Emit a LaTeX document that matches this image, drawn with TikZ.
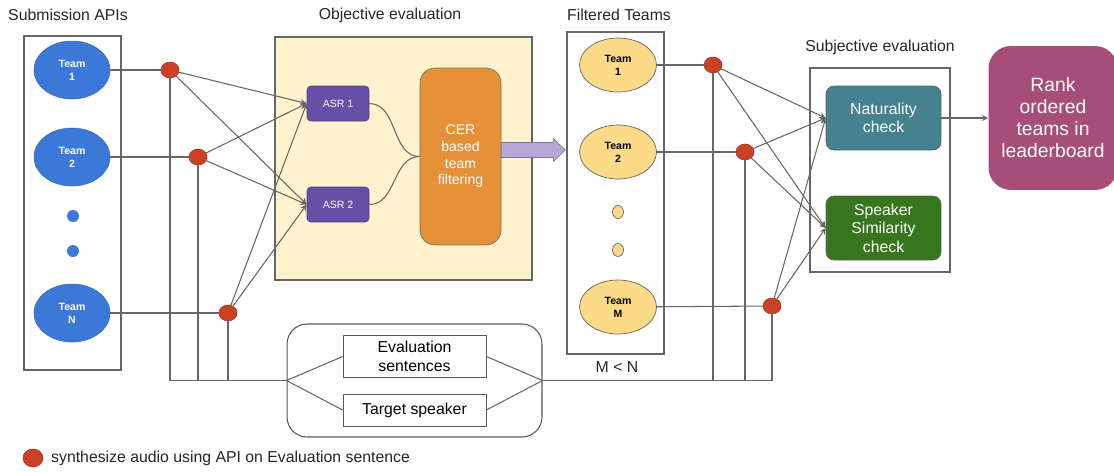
\documentclass[tikz,border=0pt]{standalone}
\usepackage{fontspec}
\setmainfont{Liberation Sans}
\usetikzlibrary{shapes.geometric,calc}

\definecolor{dotred}{HTML}{CC4125}
\definecolor{teamblue}{HTML}{3C78D8}
\definecolor{teamyellow}{HTML}{FBDB88}
\definecolor{objfill}{HTML}{FFF2CC}
\definecolor{asrpurple}{HTML}{674EA7}
\definecolor{arrowpurple}{HTML}{B4A7D6}
\definecolor{cerorange}{HTML}{E69138}
\definecolor{natteal}{HTML}{45818E}
\definecolor{spkgreen}{HTML}{38761D}
\definecolor{rankmagenta}{HTML}{A64D79}
\definecolor{linegray}{HTML}{666666}

\begin{document}
\begin{tikzpicture}[x=0.02cm, y=-0.02cm,
  wire/.style={draw=linegray, line width=0.6pt},
  feed/.style={wire, ->, >=stealth},
  frame/.style={draw=linegray, line width=0.6pt},
  title/.style={font=\fontsize{9}{11}\selectfont, text=black!85},
  synth/.style={ellipse, fill=dotred, draw=dotred!75!black, line width=0.3pt,
    minimum width=0.36cm, minimum height=0.32cm, inner sep=0pt},
  team/.style={ellipse, fill=teamblue, draw=teamblue!85!black, line width=0.3pt,
    text=white, font=\fontsize{6}{7.5}\selectfont\bfseries, align=center,
    minimum width=1.52cm, minimum height=1.16cm, inner sep=0pt},
  kept/.style={ellipse, fill=teamyellow, draw=black!60, line width=0.4pt,
    text=black, font=\fontsize{6}{7.5}\selectfont\bfseries, align=center,
    minimum width=1.54cm, minimum height=1.08cm, inner sep=0pt},
  asr/.style={rectangle, rounded corners=0.08cm, fill=asrpurple, draw=asrpurple!80!black,
    text=white, font=\fontsize{6}{7.5}\selectfont,
    minimum width=1.24cm, minimum height=0.7cm},
  judge/.style={rectangle, rounded corners=0.16cm, draw=black!60, text=white,
    font=\fontsize{9}{10.5}\selectfont, align=center,
    minimum width=2.3cm, minimum height=1.28cm},
  inbox/.style={rectangle, draw=black!65, line width=0.5pt,
    font=\fontsize{9}{10.5}\selectfont, align=center, minimum width=2.86cm}]

\useasboundingbox (0,0) rectangle (1114,471);

\node[title] at (68,15) {Submission APIs};
\node[title] at (390,15) {Objective evaluation};
\node[title] at (619,15) {Filtered Teams};
\node[title] at (880,47) {Subjective evaluation};

\draw[frame] (24,36) rectangle (121,370);
\draw[frame, fill=objfill] (275,37) rectangle (532,280);
\draw[frame] (567,32) rectangle (664,354);
\draw[frame] (810,68) rectangle (950,272);

\node[team] (t1) at (72,70) {Team\\1};
\node[team] (t2) at (72,157) {Team\\2};
\node[team] (tn) at (72,313) {Team\\N};
\fill[teamblue] (73,216) circle [radius=0.12cm];
\fill[teamblue] (73,251) circle [radius=0.12cm];

\node[synth] (d1) at (170,70) {};
\node[synth] (d2) at (198,157) {};
\node[synth] (d3) at (228,313) {};

\node[asr] (asr1) at (338,103.5) {ASR 1};
\node[asr] (asr2) at (338,204.5) {ASR 2};
\node[rectangle, rounded corners=0.3cm, fill=cerorange, draw=black!55, text=white,
  font=\fontsize{8}{9.5}\selectfont, align=center,
  minimum width=1.62cm, minimum height=3.54cm] (cer) at (460.5,156.5)
  {CER\\based\\team\\filtering};

\node[kept] (f1) at (618,65) {Team\\1};
\node[kept] (f2) at (618,152) {Team\\2};
\node[kept] (fm) at (618,307) {Team\\M};
\node[ellipse, fill=teamyellow, draw=black!60, line width=0.4pt, inner sep=0pt,
  minimum width=0.22cm, minimum height=0.26cm] at (618,212) {};
\node[ellipse, fill=teamyellow, draw=black!60, line width=0.4pt, inner sep=0pt,
  minimum width=0.22cm, minimum height=0.26cm] at (618,250) {};
\node[title] at (617,367) {M < N};

\node[synth] (e1) at (713,65) {};
\node[synth] (e2) at (745,152) {};
\node[synth] (e3) at (772,306) {};

\node[judge, fill=natteal] (nat) at (883.5,118) {Naturality\\check};
\node[judge, fill=spkgreen] (spk) at (883.5,228) {Speaker\\Similarity\\check};
\node[rectangle, rounded corners=0.45cm, fill=rankmagenta, text=white,
  font=\fontsize{11}{12.5}\selectfont, align=center,
  minimum width=2.58cm, minimum height=2.88cm] (rank) at (1053,118)
  {Rank\\ordered\\teams in\\leaderboard};

\node[rectangle, rounded corners=0.4cm, draw=black!65, line width=0.6pt,
  minimum width=5.1cm, minimum height=2.26cm] (src) at (414.5,380.5) {};
\node[inbox, minimum height=0.78cm] (sent) at (414.5,356.5) {Evaluation\\sentences};
\node[inbox, minimum height=0.64cm] (spkr) at (414.5,410) {Target speaker};

\draw[wire] (t1) -- (d1);
\draw[wire] (t2) -- (d2);
\draw[wire] (tn) -- (d3);
\foreach \d in {d1,d2,d3} {
  \draw[wire] (\d) |- (src.west);
  \draw[feed] (\d) -- (asr1.west);
  \draw[feed] (\d) -- (asr2.west);
}
\draw[wire] (src.west) -- (sent.west);
\draw[wire] (src.west) -- (spkr.west);
\draw[wire] (src.east) -- (sent.east);
\draw[wire] (src.east) -- (spkr.east);

\draw[wire] (asr1.east) to[out=0, in=180] (cer.west);
\draw[wire] (asr2.east) to[out=0, in=180] (cer.west);
\filldraw[fill=arrowpurple, draw=arrowpurple!70!black, line width=0.3pt]
  ($(cer.east)+(0,-14)$) -- ++(52,0) -- ++(0,-4) -- ++(12,11.5)
  -- ++(-12,11.5) -- ++(0,-4) -- ++(-52,0) -- cycle;

\draw[wire] (f1) -- (e1);
\draw[wire] (f2) -- (e2);
\draw[wire] (fm) -- (e3);
\foreach \e in {e1,e2,e3} {
  \draw[wire] (\e) |- (src.east);
  \draw[feed] (\e) -- (nat.west);
  \draw[feed] (\e) -- (spk.west);
}
\draw[feed] (nat) -- (rank);

\node[synth, minimum width=0.4cm, minimum height=0.36cm] (key) at (33,458) {};
\node[title, anchor=west] at (45,458) {synthesize audio using API on Evaluation sentence};

\end{tikzpicture}
\end{document}
